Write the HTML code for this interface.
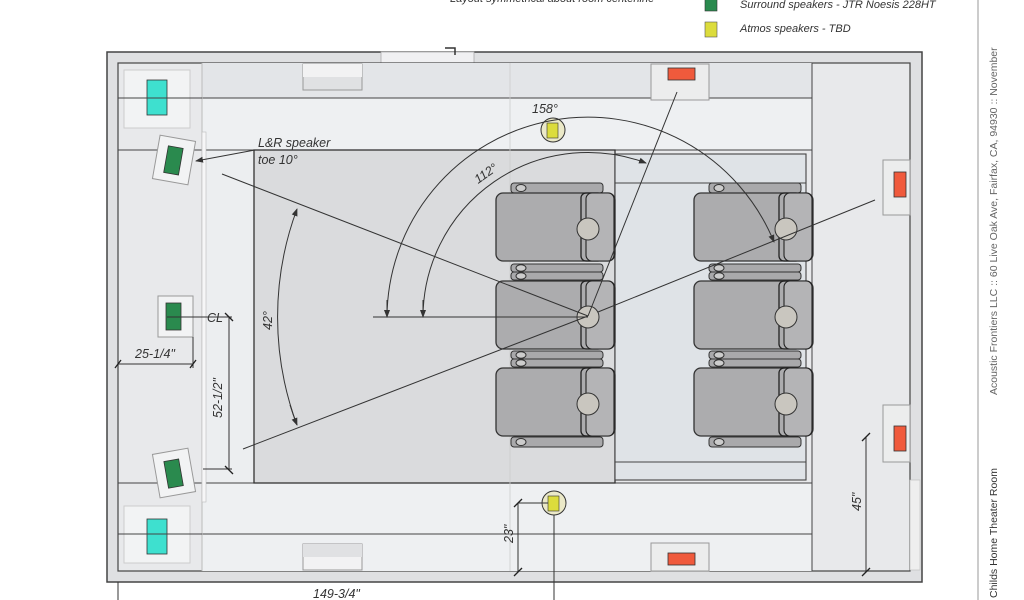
<!DOCTYPE html>
<html><head><meta charset="utf-8"><style>
html,body{margin:0;padding:0;background:#fff;width:1024px;height:600px;overflow:hidden}
svg{display:block}
text{font-family:"Liberation Sans",sans-serif;font-style:italic;fill:#333}
</style></head><body>
<svg width="1024" height="600" viewBox="0 0 1024 600" xmlns="http://www.w3.org/2000/svg">
<defs>
<marker id="ar" markerWidth="8" markerHeight="8" refX="7" refY="4" orient="auto"><path d="M0,1 L8,4 L0,7 z" fill="#333"/></marker>
<g id="arm">
 <rect x="511" y="0" width="92" height="8" rx="3" fill="#a9a9ab" stroke="#333" stroke-width="1"/>
 <rect x="511" y="8" width="92" height="8" rx="3" fill="#a9a9ab" stroke="#333" stroke-width="1"/>
 <ellipse cx="521" cy="4" rx="5" ry="3.3" fill="#ccc" stroke="#333"/>
 <ellipse cx="521" cy="12" rx="5" ry="3.3" fill="#ccc" stroke="#333"/>
</g>
<g id="seat">
 <rect x="496" y="0" width="119" height="68" rx="7" fill="#acacae" stroke="#333" stroke-width="1.3"/>
 <rect x="581" y="0" width="22" height="68" rx="5" fill="none" stroke="#222" stroke-width="1.3"/>
 <rect x="586" y="0" width="28" height="68" rx="6" fill="#b4b4b6" stroke="#222" stroke-width="1.1"/>
 <circle cx="588" cy="36" r="11" fill="#c9c6bf" stroke="#333"/>
</g>
</defs>
<!-- legend -->
<text x="450" y="2" font-size="11" fill="#555">Layout symmetrical about room centerline</text>
<rect x="705" y="-2" width="12" height="13" fill="#2a8a4e" stroke="#333" stroke-width=".6"/>
<text x="740" y="8" font-size="11">Surround speakers - JTR Noesis 228HT</text>
<rect x="705" y="22" width="12" height="15" fill="#dcdc3c" stroke="#555" stroke-width=".6"/>
<text x="740" y="32" font-size="11">Atmos speakers - TBD</text>
<!-- right title block -->
<line x1="978" y1="0" x2="978" y2="600" stroke="#999" stroke-width="1"/>
<text transform="translate(997,598) rotate(-90)" font-size="10.5" style="font-style:normal;fill:#333">Childs Home Theater Room</text>
<text transform="translate(997,395) rotate(-90)" font-size="10.5" style="font-style:normal;fill:#666">Acoustic Frontiers LLC  ::  60 Live Oak Ave, Fairfax, CA, 94930  ::  November</text>
<!-- room -->
<rect x="107" y="52" width="815" height="530" fill="#dfe0e2" stroke="#444" stroke-width="1.5"/>
<rect x="381" y="52" width="93" height="11" fill="#f0f0f2" stroke="#aaa" stroke-width=".8"/>
<path d="M445,48 L455,48 L455,55" fill="none" stroke="#333" stroke-width="1.5"/>
<rect x="118" y="63" width="792" height="508" fill="#e8e9eb" stroke="#444" stroke-width="1.2"/>
<rect x="202" y="63" width="610" height="35" fill="#e3e5e8"/>
<rect x="202" y="98" width="610" height="52" fill="#eef0f2"/>
<rect x="202" y="483" width="610" height="51" fill="#eef0f2"/>
<rect x="202" y="534" width="610" height="37" fill="#eef0f2"/>
<rect x="202" y="150" width="52" height="333" fill="#eceef0"/>
<line x1="118" y1="98" x2="812" y2="98" stroke="#444"/>
<line x1="118" y1="150" x2="812" y2="150" stroke="#444"/>
<line x1="118" y1="483" x2="812" y2="483" stroke="#444"/>
<line x1="118" y1="534" x2="812" y2="534" stroke="#444"/>
<line x1="812" y1="63" x2="812" y2="571" stroke="#444"/>
<line x1="202" y1="63" x2="202" y2="571" stroke="#bbb"/>
<rect x="202" y="132" width="4" height="370" fill="#f6f6f7" stroke="#bbb" stroke-width=".6"/>
<rect x="910" y="480" width="10" height="90" fill="#eee" stroke="#bbb" stroke-width=".6"/>
<!-- screen area -->
<rect x="254" y="150" width="361" height="333" fill="#dadbdd" stroke="#333" stroke-width="1.3"/>
<line x1="510" y1="63" x2="510" y2="571" stroke="#ccc" stroke-width=".8"/>
<!-- riser -->
<rect x="615" y="154" width="191" height="326" fill="#dfe3e7" stroke="#444" stroke-width="1.1"/>
<line x1="615" y1="183" x2="806" y2="183" stroke="#444"/>
<line x1="615" y1="462" x2="806" y2="462" stroke="#444"/>
<!-- wall boxes -->
<rect x="303" y="64" width="59" height="26" fill="#e0e1e3" stroke="#999"/>
<rect x="303" y="64" width="59" height="13" fill="#f2f2f3"/>
<rect x="303" y="544" width="59" height="26" fill="#f2f2f3" stroke="#999"/>
<rect x="303" y="544" width="59" height="13" fill="#e0e1e3"/>
<rect x="651" y="64" width="58" height="36" fill="#eceded" stroke="#999"/>
<rect x="668" y="68" width="27" height="12" fill="#f05a3c" stroke="#333" stroke-width=".8"/>
<rect x="651" y="543" width="58" height="28" fill="#eceded" stroke="#999"/>
<rect x="668" y="553" width="27" height="12" fill="#f05a3c" stroke="#333" stroke-width=".8"/>
<rect x="883" y="160" width="27" height="55" fill="#eceded" stroke="#999"/>
<rect x="894" y="172" width="12" height="25" fill="#f05a3c" stroke="#333" stroke-width=".8"/>
<rect x="883" y="405" width="27" height="57" fill="#eceded" stroke="#999"/>
<rect x="894" y="426" width="12" height="25" fill="#f05a3c" stroke="#333" stroke-width=".8"/>
<!-- left speakers -->
<rect x="124" y="70" width="66" height="58" fill="#f2f3f4" stroke="#ccc"/>
<rect x="147" y="80" width="20" height="35" fill="#3ee0cf" stroke="#333" stroke-width=".8"/>
<rect x="124" y="506" width="66" height="57" fill="#f2f3f4" stroke="#ccc"/>
<rect x="147" y="519" width="20" height="35" fill="#3ee0cf" stroke="#333" stroke-width=".8"/>
<line x1="118" y1="98" x2="202" y2="98" stroke="#444"/>
<line x1="118" y1="534" x2="202" y2="534" stroke="#444"/>
<g transform="rotate(10 174 160)"><rect x="156" y="138" width="36" height="44" fill="#f2f3f4" stroke="#999"/><rect x="166" y="147" width="15" height="27" fill="#2a8a4e" stroke="#333" stroke-width=".8"/></g>
<g transform="rotate(-10 174 473)"><rect x="156" y="451" width="36" height="44" fill="#f2f3f4" stroke="#999"/><rect x="166" y="460" width="15" height="27" fill="#2a8a4e" stroke="#333" stroke-width=".8"/></g>
<rect x="158" y="296" width="35" height="41" fill="#f2f3f4" stroke="#999"/>
<rect x="166" y="303" width="15" height="27" fill="#2a8a4e" stroke="#333" stroke-width=".8"/>
<!-- seats -->
<rect x="511" y="183" width="92" height="10" rx="3" fill="#a9a9ab" stroke="#333"/><ellipse cx="521" cy="188" rx="5" ry="3.5" fill="#ccc" stroke="#333"/>
<rect x="709" y="183" width="92" height="10" rx="3" fill="#a9a9ab" stroke="#333"/><ellipse cx="719" cy="188" rx="5" ry="3.5" fill="#ccc" stroke="#333"/>
<use href="#arm" transform="translate(0,264)"/>
<use href="#arm" transform="translate(0,351)"/>
<use href="#arm" transform="translate(198,264)"/>
<use href="#arm" transform="translate(198,351)"/>
<use href="#seat" transform="translate(0,193)"/>
<use href="#seat" transform="translate(0,281)"/>
<use href="#seat" transform="translate(0,368)"/>
<use href="#seat" transform="translate(198,193)"/>
<use href="#seat" transform="translate(198,281)"/>
<use href="#seat" transform="translate(198,368)"/>
<rect x="511" y="437" width="92" height="10" rx="3" fill="#a9a9ab" stroke="#333"/><ellipse cx="521" cy="442" rx="5" ry="3.5" fill="#ccc" stroke="#333"/>
<rect x="709" y="437" width="92" height="10" rx="3" fill="#a9a9ab" stroke="#333"/><ellipse cx="719" cy="442" rx="5" ry="3.5" fill="#ccc" stroke="#333"/>
<!-- atmos -->
<circle cx="553" cy="130" r="12" fill="#ebe9c8" stroke="#333"/><rect x="547" y="123" width="11" height="15" fill="#dcdc3c" stroke="#333" stroke-width=".6"/>
<circle cx="554" cy="503" r="12" fill="#ebe9c8" stroke="#333"/><rect x="548" y="496" width="11" height="15" fill="#dcdc3c" stroke="#333" stroke-width=".6"/>
<!-- sight lines -->
<g stroke="#333" stroke-width="1" fill="none">
<line x1="222" y1="174" x2="588" y2="316"/>
<line x1="243" y1="449" x2="588" y2="316"/>
<line x1="373" y1="317" x2="588" y2="317"/>
<line x1="588" y1="316" x2="677" y2="92"/>
<line x1="598" y1="312" x2="875" y2="200"/>
<line x1="554" y1="515" x2="554" y2="600"/>
<path d="M387,317 A201,201 0 0 1 774,242" marker-end="url(#ar)"/>
<path d="M387,300 L387,317" marker-end="url(#ar)"/>
<path d="M423,317 A165,165 0 0 1 646,163" marker-end="url(#ar)"/>
<path d="M423,300 L423,317" marker-end="url(#ar)"/>
<path d="M297,425 A310,310 0 0 1 297,209" marker-end="url(#ar)"/>
<path d="M290,405 A310,310 0 0 0 297,425" marker-end="url(#ar)"/>
<line x1="255" y1="150" x2="196" y2="161" marker-end="url(#ar)"/>
<!-- dims -->
<line x1="167" y1="317" x2="232" y2="317"/>
<line x1="229" y1="317" x2="229" y2="470"/>
<line x1="203" y1="469" x2="232" y2="469"/>
<line x1="118" y1="364" x2="193" y2="364"/>
<line x1="193" y1="337" x2="193" y2="368"/>
<line x1="518" y1="503" x2="518" y2="572"/>
<line x1="518" y1="503" x2="548" y2="503"/>
<line x1="866" y1="437" x2="866" y2="572"/>
<line x1="118" y1="582" x2="118" y2="600"/>
</g>
<g stroke="#222" stroke-width="1.3">
<line x1="225" y1="313" x2="233" y2="321"/><line x1="225" y1="466" x2="233" y2="474"/>
<line x1="115" y1="368" x2="121" y2="360"/><line x1="190" y1="368" x2="196" y2="360"/>
<line x1="514" y1="507" x2="522" y2="499"/><line x1="514" y1="576" x2="522" y2="568"/>
<line x1="862" y1="441" x2="870" y2="433"/><line x1="862" y1="576" x2="870" y2="568"/>
</g>
<!-- labels -->
<g font-size="12.5">
<text x="532" y="113">158°</text>
<text transform="translate(478,184) rotate(-35)">112°</text>
<text transform="translate(272,330) rotate(-90)">42°</text>
<text x="258" y="147">L&amp;R speaker</text>
<text x="258" y="164">toe 10°</text>
<text x="207" y="322">CL</text>
<text x="135" y="358">25-1/4"</text>
<text transform="translate(222,418) rotate(-90)">52-1/2"</text>
<text transform="translate(513,543) rotate(-90)">23"</text>
<text transform="translate(861,511) rotate(-90)">45"</text>
<text x="313" y="598">149-3/4"</text>
</g>
</svg>
</body></html>
